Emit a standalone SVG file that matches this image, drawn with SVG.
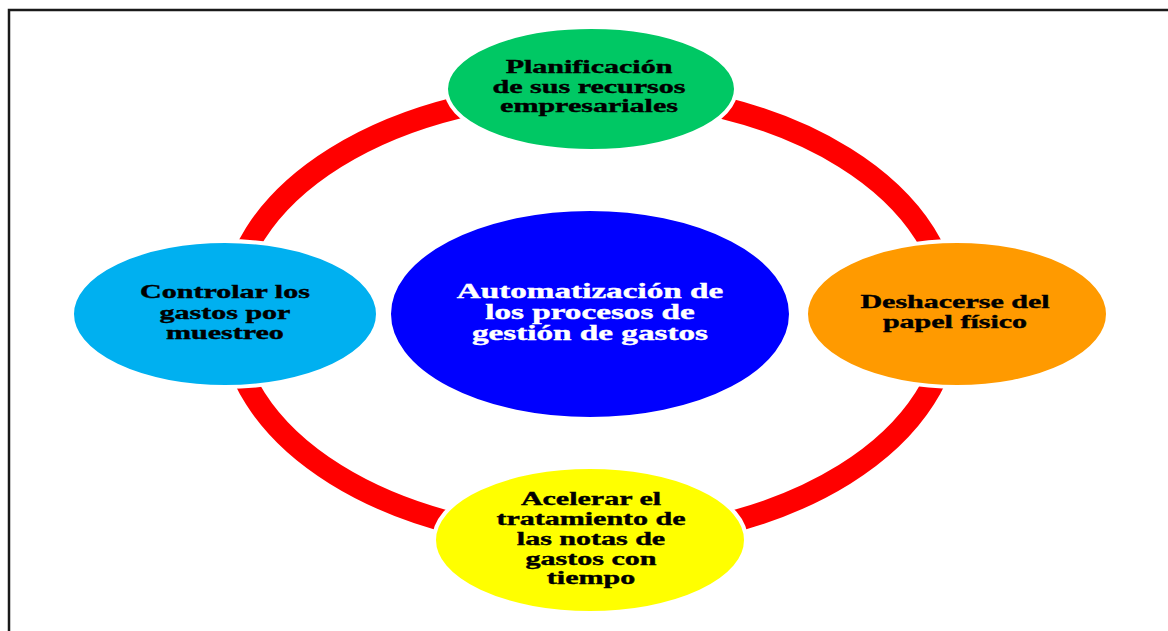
<svg xmlns="http://www.w3.org/2000/svg" width="1168" height="631" viewBox="0 0 1168 631">
<style>
.ring{fill:none;stroke:#FF0000;stroke-width:22}
.node{stroke:#FFFFFF;stroke-width:4}
.lbl{font-family:"Liberation Serif","Times New Roman",serif;font-weight:bold;font-size:19px;text-anchor:middle;fill:#000000;stroke:#000000;stroke-width:0.4}
.ctr{font-size:20.5px;fill:#FFFFFF;stroke:#FFFFFF}
</style>
<rect width="1168" height="631" fill="#FFFFFF"/>
<path d="M1170,10 H9 V633" fill="none" stroke="#1a1a1a" stroke-width="2.5"/>
<g id="connectors">
<path class="ring" d="M590,92 A360,224 0 0 1 950,316"/>
<path class="ring" d="M950,316 A360,224 0 0 1 590,540"/>
<path class="ring" d="M590,540 A360,224 0 0 1 230,316"/>
<path class="ring" d="M230,316 A360,224 0 0 1 590,92"/>
</g>
<g id="center">
<ellipse class="node" cx="590" cy="314" rx="201" ry="105" fill="#0000FF"/>
<g transform="translate(590,0) scale(1.62,1)">
<text class="lbl ctr" x="0" y="298">Automatización de</text>
<text class="lbl ctr" x="0" y="319">los procesos de</text>
<text class="lbl ctr" x="0" y="340">gestión de gastos</text>
</g>
</g>
<g id="planificacion">
<ellipse class="node" cx="591" cy="89" rx="145" ry="62" fill="#00C864"/>
<g transform="translate(589,0) scale(1.58,1)">
<text class="lbl" x="0" y="73">Planificación</text>
<text class="lbl" x="0" y="93">de sus recursos</text>
<text class="lbl" x="0" y="112">empresariales</text>
</g>
</g>
<g id="deshacerse">
<ellipse class="node" cx="957" cy="314" rx="151" ry="73" fill="#FF9A00"/>
<g transform="translate(955,0) scale(1.58,1)">
<text class="lbl" x="0" y="308">Deshacerse del</text>
<text class="lbl" x="0" y="328">papel físico</text>
</g>
</g>
<g id="acelerar">
<ellipse class="node" cx="590" cy="540" rx="156" ry="73" fill="#FFFF00"/>
<g transform="translate(591,0) scale(1.58,1)">
<text class="lbl" x="0" y="505">Acelerar el</text>
<text class="lbl" x="0" y="525">tratamiento de</text>
<text class="lbl" x="0" y="545">las notas de</text>
<text class="lbl" x="0" y="565">gastos con</text>
<text class="lbl" x="0" y="584">tiempo</text>
</g>
</g>
<g id="controlar">
<ellipse class="node" cx="225" cy="314" rx="153" ry="73" fill="#00B0F0"/>
<g transform="translate(225,0) scale(1.58,1)">
<text class="lbl" x="0" y="298">Controlar los</text>
<text class="lbl" x="0" y="319">gastos por</text>
<text class="lbl" x="0" y="339">muestreo</text>
</g>
</g>
</svg>
